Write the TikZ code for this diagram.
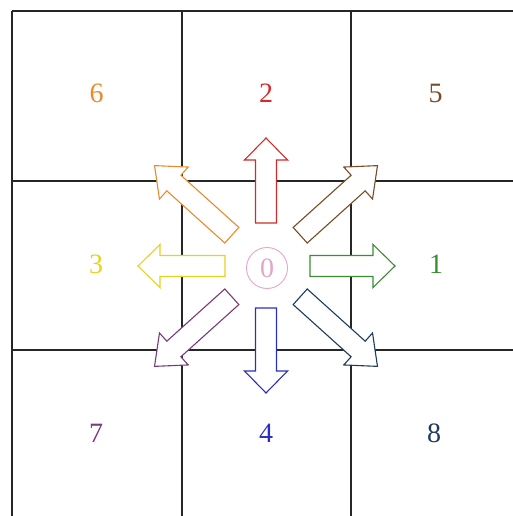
\documentclass[tikz,border=0pt]{standalone}
\usepackage{fontspec}
\setmainfont{Liberation Serif}
\usetikzlibrary{positioning}

\definecolor{dirorange}{HTML}{E98A2E}
\definecolor{dirred}{HTML}{D42A2A}
\definecolor{dirbrown}{HTML}{7B4B24}
\definecolor{diryellow}{HTML}{E8D21E}
\definecolor{dirgreen}{HTML}{3B8C34}
\definecolor{dirpurple}{HTML}{7A3A7A}
\definecolor{dirblue}{HTML}{2B2FBF}
\definecolor{dirslate}{HTML}{1F3B5C}
\definecolor{dirpink}{HTML}{E3A5C8}

\tikzset{
  cellnum/.style={font=\fontsize{28}{30}\selectfont,inner sep=0pt},
  gridline/.style={line width=2pt,black!85},
  blockarrow/.style={line width=1.1pt,line join=miter,fill=white}
}

\begin{document}
\begin{tikzpicture}[x=1pt,y=-1pt]
  \useasboundingbox (0,0) rectangle (513,516);
  \clip (0,0) rectangle (513,516);

  % grid
  \foreach \x in {12,182,351,521}
    \draw[gridline] (\x,11) -- (\x,520);
  \foreach \y in {11,181,350,520}
    \draw[gridline] (12,\y) -- (521,\y);

  % numbers of the cells
  \node[cellnum,text=dirorange] (six)   at (96.5,93) {6};
  \node[cellnum,text=dirred]    (two)   at (266,93)  {2};
  \node[cellnum,text=dirbrown]  (five)  at (435.5,93) {5};
  \node[cellnum,text=diryellow] (three) at (96,264)  {3};
  \node[cellnum,text=dirgreen]  (one)   at (436,264) {1};
  \node[cellnum,text=dirpurple] (seven) at (96,433)  {7};
  \node[cellnum,text=dirblue]   (four)  at (266,433) {4};
  \node[cellnum,text=dirslate]  (eight) at (434,433) {8};

  % centre
  \node[cellnum,text=dirpink,draw=dirpink,circle,line width=0.9pt,minimum size=41pt] (zero) at (267,268) {0};

  % block arrows: angle/colour/tail/head base/tip
  \foreach \ang/\col/\ra/\rb/\rc in {0/dirgreen/44/107/129, 90/dirred/43/106/128,
      180/diryellow/41/106/128, 270/dirblue/42/105/127,
      42/dirbrown/46/124/150, 138/dirorange/46/124/150,
      222/dirpurple/46/124/150, 318/dirslate/46/124/150}{
    \begin{scope}[shift={(266,266)},rotate=\ang]
      \draw[blockarrow,draw=\col] (\ra,-10.5) -- (\rb,-10.5) -- (\rb,-21.5) -- (\rc,0)
        -- (\rb,21.5) -- (\rb,10.5) -- (\ra,10.5) -- cycle;
    \end{scope}
  }
\end{tikzpicture}
\end{document}
